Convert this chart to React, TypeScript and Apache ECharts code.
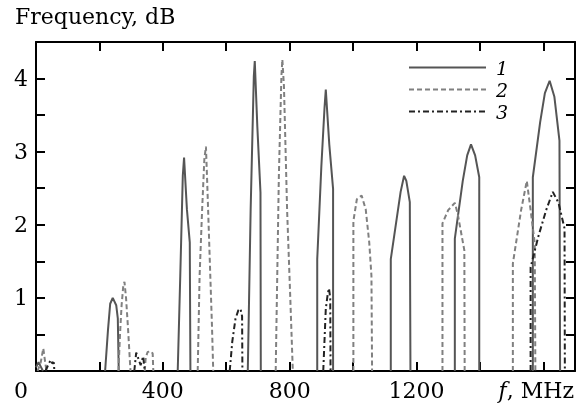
import React, { useEffect, useRef } from "react";
import * as echarts from "echarts";

// Axis ranges and tick labels
const xMin = 0;
const xMax = 1700;
const xStep = 200;
const yMin = 0;
const yMax = 4.5;
const yStep = 0.5;
const xLabelValues = [400, 800, 1200];
const yLabelValues = [1, 2, 3, 4];
const seriesNames = ["1", "2", "3"];

// Series 1 (solid): peaks as [f MHz, level dB] segments
const series1Segments: [number, number][][] = [
  [[0, 0.05], [8, 0.12], [15, 0.06], [22, 0]],
  [[218, 0], [227, 0.56], [234, 0.92], [242, 1.0], [253, 0.9], [258, 0.72], [261, 0]],
  [[447, 0], [455, 1.3], [463, 2.67], [467, 2.92], [476, 2.21], [485, 1.76], [487, 0]],
  [[668, 0], [677, 2.21], [687, 4.03], [690, 4.24], [698, 3.35], [708, 2.44], [709, 0]],
  [[887, 0], [887, 1.53], [900, 2.8], [910, 3.6], [914, 3.85], [925, 3.1], [937, 2.49], [937, 0]],
  [[1119, 0], [1119, 1.53], [1150, 2.45], [1161, 2.67], [1168, 2.6], [1179, 2.31], [1181, 0]],
  [[1321, 0], [1321, 1.81], [1346, 2.6], [1360, 2.95], [1372, 3.1], [1385, 2.95], [1398, 2.65], [1398, 0]],
  [[1567, 0], [1567, 2.65], [1590, 3.4], [1605, 3.8], [1620, 3.97], [1635, 3.75], [1651, 3.15], [1653, 0]],
];

// Series 2 (dashed)
const series2Segments: [number, number][][] = [
  [[5, 0], [15, 0.12], [23, 0.31], [28, 0.15], [33, 0]],
  [[260, 0], [265, 0.5], [270, 0.9], [275, 1.15], [279, 1.22], [284, 1.0], [290, 0.6], [298, 0]],
  [[343, 0], [346, 0.18], [352, 0.26], [362, 0.27], [368, 0.24], [370, 0]],
  [[510, 0], [516, 1.3], [524, 2.21], [531, 2.9], [536, 3.07], [540, 2.58], [548, 1.53], [555, 0.62], [559, 0]],
  [[756, 0], [766, 2.67], [774, 4.03], [777, 4.26], [782, 3.9], [792, 2.2], [802, 1.0], [810, 0]],
  [[1001, 0], [1001, 2.05], [1012, 2.35], [1027, 2.4], [1040, 2.21], [1051, 1.76], [1058, 1.3], [1060, 0]],
  [[1282, 0], [1282, 2.02], [1300, 2.2], [1321, 2.3], [1330, 2.15], [1351, 1.65], [1352, 0]],
  [[1504, 0], [1504, 1.47], [1530, 2.2], [1548, 2.6], [1560, 2.2], [1573, 1.75], [1575, 0]],
];

// Series 3 (dash-dot)
const series3Segments: [number, number][][] = [
  [[30, 0], [40, 0.1], [47, 0.15], [52, 0.1], [56, 0.12], [58, 0]],
  [[310, 0], [316, 0.25], [322, 0.18], [330, 0.08], [338, 0.2], [343, 0]],
  [[611, 0], [619, 0.4], [629, 0.71], [638, 0.83], [645, 0.85], [650, 0.75], [651, 0]],
  [[906, 0], [914, 0.85], [920, 1.05], [924, 1.13], [928, 1.0], [929, 0]],
  [[1560, 0], [1560, 1.42], [1585, 1.85], [1609, 2.2], [1630, 2.45], [1648, 2.3], [1667, 1.95], [1668, 0]],
];

const FONT = "DejaVu Serif";

function toData(segs: [number, number][][]) {
  const out: any[] = [];
  segs.forEach((s, i) => {
    if (i > 0) {
      const prev = segs[i - 1];
      out.push([(prev[prev.length - 1][0] + s[0][0]) / 2, "-"]);
    }
    s.forEach((p) => out.push(p));
  });
  return out;
}

export default function App() {
  const ref = useRef<HTMLDivElement>(null);
  useEffect(() => {
    if (!ref.current) return;
    const chart = echarts.init(ref.current, undefined, { renderer: "svg" });
    const axisLine = { show: true, onZero: false, lineStyle: { color: "#000", width: 2 } };
    const axisTick = { show: true, inside: true, length: 9, lineStyle: { color: "#000", width: 2 } };
    chart.setOption({
      animation: false,
      textStyle: { fontFamily: FONT },
      grid: { left: 36, top: 42, right: 5, bottom: 36, containLabel: false },
      xAxis: [
        {
          type: "value",
          min: xMin,
          max: xMax,
          interval: xStep,
          position: "bottom",
          axisLine,
          axisTick,
          splitLine: { show: false },
          axisLabel: {
            formatter: (v: number) => (xLabelValues.includes(v) ? String(v) : ""),
            fontSize: 22,
            fontFamily: FONT,
            color: "#000",
            margin: 8,
          },
        },
        {
          type: "value",
          min: xMin,
          max: xMax,
          interval: xStep,
          position: "top",
          axisLine,
          axisTick,
          splitLine: { show: false },
          axisLabel: { show: false },
        },
      ],
      yAxis: [
        {
          type: "value",
          min: yMin,
          max: yMax,
          interval: yStep,
          position: "left",
          axisLine,
          axisTick,
          splitLine: { show: false },
          axisLabel: {
            formatter: (v: number) => (yLabelValues.includes(v) ? String(v) : ""),
            fontSize: 22,
            fontFamily: FONT,
            color: "#000",
            margin: 8,
          },
        },
        {
          type: "value",
          min: yMin,
          max: yMax,
          interval: yStep,
          position: "right",
          axisLine,
          axisTick,
          splitLine: { show: false },
          axisLabel: { show: false },
        },
      ],
      legend: {
        orient: "vertical",
        left: 408,
        top: 58,
        padding: 0,
        itemWidth: 77,
        itemHeight: 14,
        itemGap: 3,
        data: seriesNames,
        itemStyle: { opacity: 0 },
        textStyle: {
          fontStyle: "italic",
          fontFamily: FONT,
          fontSize: 19,
          color: "#000",
          lineHeight: 18,
          padding: [0, 0, 0, 5],
        },
      },
      series: [
        {
          name: seriesNames[0],
          type: "line",
          data: toData(series1Segments),
          showSymbol: false,
          symbol: "none",
          connectNulls: false,
          lineStyle: { color: "#555", width: 2, type: "solid" },
          itemStyle: { color: "#555" },
        },
        {
          name: seriesNames[1],
          type: "line",
          data: toData(series2Segments),
          showSymbol: false,
          symbol: "none",
          connectNulls: false,
          lineStyle: { color: "#808080", width: 2, type: [5, 3] },
          itemStyle: { color: "#808080" },
        },
        {
          name: seriesNames[2],
          type: "line",
          data: toData(series3Segments),
          showSymbol: false,
          symbol: "none",
          connectNulls: false,
          lineStyle: { color: "#222", width: 2, type: [6, 3, 2, 3] },
          itemStyle: { color: "#222" },
        },
      ],
      graphic: [
        {
          type: "text",
          left: 15,
          top: 5,
          style: { text: "Frequency, dB", fontSize: 22, fontFamily: FONT, fill: "#000" },
        },
        {
          type: "text",
          x: 21,
          y: 390,
          style: { text: "0", fontSize: 22, fontFamily: FONT, fill: "#000", align: "center", verticalAlign: "middle" },
        },
        {
          type: "text",
          x: 574,
          y: 390,
          style: {
            text: "{i|f}, MHz",
            fontSize: 22,
            fontFamily: FONT,
            fill: "#000",
            align: "right",
            verticalAlign: "middle",
            rich: { i: { fontStyle: "italic", fontSize: 22, fontFamily: FONT, fill: "#000" } },
          },
        },
      ],
    });
    return () => chart.dispose();
  }, []);
  return <div ref={ref} style={{ position: "fixed", left: 0, top: 0, width: 580, height: 407 }} />;
}
